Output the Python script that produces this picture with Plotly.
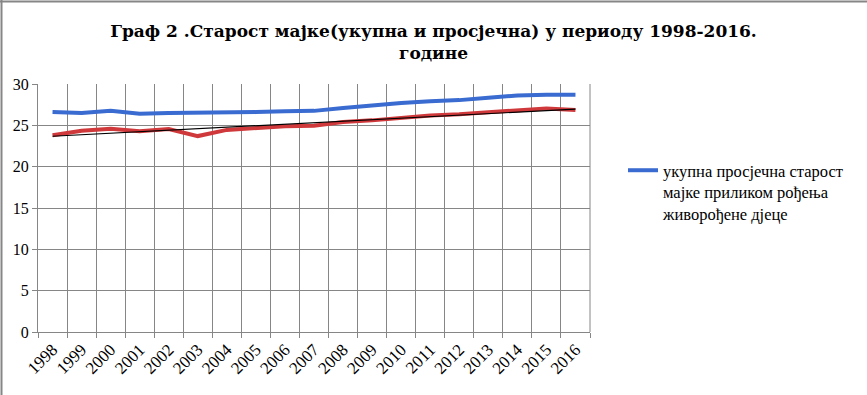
import numpy as np
import plotly.graph_objects as go

years = [str(y) for y in range(1998, 2017)]
ukupna = [26.6, 26.5, 26.75, 26.4, 26.5, 26.5, 26.5, 26.6, 26.7, 26.75,
          27.1, 27.45, 27.7, 27.9, 28.05, 28.35, 28.6, 28.7, 28.7]
prosjecna = [23.8, 24.35, 24.6, 24.3, 24.55, 23.7, 24.45, 24.7, 24.9, 24.95,
             25.4, 25.6, 25.95, 26.2, 26.35, 26.6, 26.8, 27.05, 26.85]
y_ticks = [0, 5, 10, 15, 20, 25, 30]

title = "Граф 2 .Старост мајке(укупна и просјечна) у периоду 1998-2016.<br>године"
legend_name = "укупна просјечна старост<br>мајке приликом рођења<br>живорођене дјеце"

# linear trendline of the second series (as Excel draws it)
idx = np.arange(len(prosjecna))
k, b = np.polyfit(idx, prosjecna, 1)
trend = k * idx + b

SERIF = "Times New Roman"
TITLE_FONT = "DejaVu Serif"
W, H = 867, 395
L, R, T, B = 38, 277, 84, 63
pw = W - L - R
ph = H - T - B


def px_x(p):
    return (p - L) / pw


def px_y(p):
    return (H - B - p) / ph


fig = go.Figure()
fig.add_trace(go.Scatter(x=years, y=ukupna, mode="lines", name=legend_name,
                         line=dict(color="#3A6BD0", width=4), showlegend=True))
fig.add_trace(go.Scatter(x=years, y=prosjecna, mode="lines", name="prosjecna",
                         line=dict(color="#D0393B", width=4), showlegend=False))
fig.add_trace(go.Scatter(x=years, y=trend, mode="lines", name="trend",
                         line=dict(color="#000000", width=1.2), showlegend=False))

fig.update_layout(
    width=W, height=H,
    margin=dict(l=L, r=R, t=T, b=B, autoexpand=False),
    paper_bgcolor="white", plot_bgcolor="white",
    title=dict(text="<b>" + title.replace("<br>", "</b><br><b>") + "</b>",
               x=0.5, xref="container", xanchor="center", y=1 - 37 / H, yanchor="top",
               font=dict(family=TITLE_FONT, size=17, color="black")),
    font=dict(family=SERIF, color="black"),
    legend=dict(x=px_x(623), xanchor="left", y=px_y(153), yanchor="top",
                font=dict(family=SERIF, size=16.5, color="black"), valign="top",
                bgcolor="rgba(0,0,0,0)", borderwidth=0),
    xaxis=dict(type="category", tickson="boundaries", showgrid=True, automargin=False,
               gridcolor="#868686", gridwidth=1, showline=True, linecolor="#868686",
               ticks="outside", ticklen=5, tickcolor="#868686", tickangle=-45,
               tickfont=dict(family=SERIF, size=17, color="black"),
               range=[-0.5, 18.5], zeroline=False),
    yaxis=dict(range=[0, 30], tickvals=y_ticks, showgrid=True, gridcolor="#868686",
               gridwidth=1, showline=True, linecolor="#868686", ticks="outside",
               automargin=False, ticklen=5, tickcolor="#868686", zeroline=False,
               tickfont=dict(family=SERIF, size=16, color="black")),
    shapes=[
        dict(type="line", xref="paper", yref="paper", x0=px_x(0), x1=px_x(W),
             y0=px_y(1.5), y1=px_y(1.5), line=dict(color="#868686", width=2)),
        dict(type="line", xref="paper", yref="paper", x0=px_x(1.5), x1=px_x(1.5),
             y0=px_y(H), y1=px_y(0), line=dict(color="#868686", width=2)),
        dict(type="line", xref="paper", yref="paper", x0=1, x1=1, y0=0, y1=1,
             line=dict(color="#868686", width=1)),
    ],
)

fig.write_html("out.html", config={"displayModeBar": False},
               post_script="document.body.style.margin='0';")
